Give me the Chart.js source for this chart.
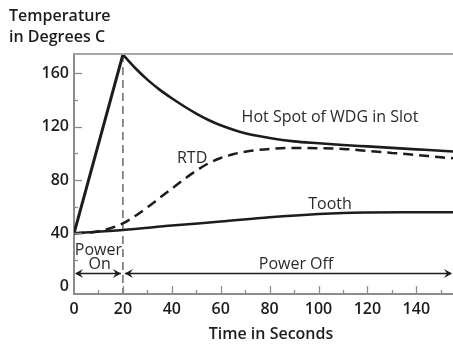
<!DOCTYPE html>
<html lang="en">
<head>
    <meta charset="UTF-8">
    <title>Temperature in Degrees C</title>
    <script src="https://cdn.jsdelivr.net/npm/chart.js"></script>
    <style>
        body { margin: 0; background: #fff; }
        #wrap { width: 453px; height: 344px; position: relative; }
    </style>
</head>
<body>
    <div id="wrap"><canvas id="tempChart"></canvas></div>

    <script>
        // Hot spot of winding in slot (straight ramp while powered, then cooling)
        const hotSpotTime = [0, 20, 25, 30, 35, 40, 45, 50, 55, 60, 70, 80, 90, 100, 110, 120, 130, 140, 150, 155];
        const hotSpotTemp = [40, 174, 164, 155.3, 147.8, 141.3, 135.3, 129.8, 125, 121, 115, 111.5, 109, 107.6, 106.3, 105.2, 104.1, 103, 101.9, 101.4];

        // RTD reading
        const rtdTime = [0, 10, 20, 25, 30, 35, 40, 45, 50, 55, 60, 65, 70, 80, 90, 100, 110, 120, 130, 140, 150, 155];
        const rtdTemp = [40, 41.5, 47.5, 53, 59.5, 66.5, 73.5, 80.5, 87, 92.5, 96.5, 99.3, 101.2, 103.3, 104, 103.8, 103.3, 101.8, 100.3, 98.8, 97, 96.3];

        // Tooth
        const toothTime = [0, 20, 40, 60, 80, 100, 110, 120, 140, 155];
        const toothTemp = [40, 42.5, 45.8, 48.8, 52, 54.5, 55.3, 55.6, 55.8, 55.9];

        const xTicks = [0, 20, 40, 60, 80, 100, 120, 140];
        const yTicks = [0, 40, 80, 120, 160];
        const powerOnEnd = 20;

        const ink = "#1c1c1c";
        const axisGrey = "#8c8c8c";
        const labelFont = "'Open Sans', 'Noto Sans', sans-serif";

        function pts(xs, ys) {
            return xs.map((x, i) => ({ x: x, y: ys[i] }));
        }

        // split the hot spot at the power-off point so the ramp stays straight
        const peakIdx = hotSpotTime.indexOf(powerOnEnd);
        const hotSpotRamp = pts(hotSpotTime.slice(0, peakIdx + 1), hotSpotTemp.slice(0, peakIdx + 1));
        const hotSpotCool = pts(hotSpotTime.slice(peakIdx), hotSpotTemp.slice(peakIdx));

        function arrowHead(ctx, x, y, dir) {
            ctx.beginPath();
            ctx.moveTo(x, y);
            ctx.lineTo(x - dir * 8, y - 4.5);
            ctx.lineTo(x - dir * 5, y);
            ctx.lineTo(x - dir * 8, y + 4.5);
            ctx.closePath();
            ctx.fill();
        }

        const decorations = {
            id: "decorations",
            beforeDatasetsDraw(chart) {
                const { ctx, chartArea: a, scales: { x } } = chart;
                // dashed marker where power is switched off
                const px = x.getPixelForValue(powerOnEnd);
                ctx.save();
                ctx.strokeStyle = "#6a6a6a";
                ctx.lineWidth = 1.5;
                ctx.setLineDash([8, 5]);
                ctx.beginPath();
                ctx.moveTo(px, a.top);
                ctx.lineTo(px, a.bottom);
                ctx.stroke();
                ctx.restore();
            },
            afterDraw(chart) {
                const { ctx, chartArea: a, scales: { x, y } } = chart;
                ctx.save();

                // top frame line
                ctx.strokeStyle = "#a6a6a6";
                ctx.lineWidth = 2;
                ctx.beginPath();
                ctx.moveTo(a.left, a.top);
                ctx.lineTo(a.right, a.top);
                ctx.stroke();

                // inward tick marks
                ctx.strokeStyle = axisGrey;
                ctx.lineWidth = 1.3;
                for (let v = 20; v <= 160; v += 20) {
                    const py = Math.round(y.getPixelForValue(v)) + 0.5;
                    const len = v % 40 === 0 ? 8 : 4;
                    ctx.beginPath();
                    ctx.moveTo(a.left, py);
                    ctx.lineTo(a.left + len, py);
                    ctx.stroke();
                }
                for (let v = 10; v <= 150; v += 10) {
                    const px = Math.round(x.getPixelForValue(v)) + 0.5;
                    const len = v % 20 === 0 ? 8 : 4;
                    ctx.beginPath();
                    ctx.moveTo(px, a.bottom);
                    ctx.lineTo(px, a.bottom - len);
                    ctx.stroke();
                }

                // curve labels
                ctx.fillStyle = "#2a2a2a";
                ctx.textAlign = "center";
                ctx.textBaseline = "middle";
                ctx.font = "16px " + labelFont;
                ctx.fillText("Hot Spot of WDG in Slot", x.getPixelForValue(104.7), y.getPixelForValue(127));
                ctx.fillText("RTD", x.getPixelForValue(48.3), y.getPixelForValue(96));
                ctx.fillText("Tooth", x.getPixelForValue(104.7), y.getPixelForValue(62));
                ctx.fillText("Power", x.getPixelForValue(10), y.getPixelForValue(27.5));
                ctx.fillText("On", x.getPixelForValue(10.5), y.getPixelForValue(16.3));
                ctx.fillText("Power Off", x.getPixelForValue(90.8), y.getPixelForValue(16.3));

                // power on / off spans
                const ay = Math.round(y.getPixelForValue(10.6)) + 0.5;
                const x0 = x.getPixelForValue(0);
                const x20 = x.getPixelForValue(powerOnEnd);
                ctx.strokeStyle = ink;
                ctx.fillStyle = ink;
                ctx.lineWidth = 1.3;
                ctx.beginPath();
                ctx.moveTo(x0 + 2, ay);
                ctx.lineTo(x20 - 2, ay);
                ctx.moveTo(x20 + 2, ay);
                ctx.lineTo(a.right - 2, ay);
                ctx.stroke();
                arrowHead(ctx, x0 + 1, ay, -1);
                arrowHead(ctx, x20 - 2, ay, 1);
                arrowHead(ctx, x20 + 2, ay, -1);
                arrowHead(ctx, a.right - 1, ay, 1);

                // axis titles
                ctx.fillStyle = ink;
                ctx.font = "600 16px " + labelFont;
                ctx.textAlign = "left";
                ctx.fillText("Temperature", 9, 16);
                ctx.fillText("in Degrees C", 9, 37);
                ctx.textAlign = "center";
                ctx.fillText("Time in Seconds", 271, 334);

                ctx.restore();
            }
        };

        const lineStyle = {
            borderColor: ink,
            pointRadius: 0,
            fill: false,
            cubicInterpolationMode: "monotone",
            borderCapStyle: "round",
            borderJoinStyle: "miter"
        };

        new Chart(document.getElementById("tempChart"), {
            type: "line",
            data: {
                datasets: [
                    { ...lineStyle, label: "Hot Spot of WDG in Slot", data: hotSpotRamp, borderWidth: 3, tension: 0, cubicInterpolationMode: "default" },
                    { ...lineStyle, label: "Hot Spot of WDG in Slot", data: hotSpotCool, borderWidth: 2.6 },
                    { ...lineStyle, label: "RTD", data: pts(rtdTime, rtdTemp), borderWidth: 2.5, borderDash: [10, 6], borderCapStyle: "butt" },
                    { ...lineStyle, label: "Tooth", data: pts(toothTime, toothTemp), borderWidth: 2.5 }
                ]
            },
            options: {
                responsive: true,
                maintainAspectRatio: false,
                animation: false,
                layout: { padding: { top: 54, left: 0, right: 0, bottom: 0 } },
                plugins: {
                    legend: { display: false },
                    tooltip: { enabled: false }
                },
                scales: {
                    x: {
                        type: "linear",
                        min: 0,
                        max: 155,
                        afterBuildTicks: s => { s.ticks = xTicks.map(v => ({ value: v })); },
                        afterFit: s => { s.height = 50; },
                        grid: { display: true, drawOnChartArea: false, drawTicks: false },
                        border: { color: axisGrey, width: 2 },
                        ticks: {
                            color: ink,
                            padding: 6,
                            maxRotation: 0,
                            autoSkip: false,
                            font: { family: labelFont, size: 16, weight: "600" }
                        }
                    },
                    y: {
                        min: -5.5,
                        max: 174.5,
                        afterBuildTicks: s => { s.ticks = yTicks.map(v => ({ value: v })); },
                        afterFit: s => { s.width = 74; },
                        grid: { display: true, drawOnChartArea: false, drawTicks: false },
                        border: { color: axisGrey, width: 2 },
                        ticks: {
                            color: ink,
                            padding: 5,
                            font: { family: labelFont, size: 16, weight: "600" }
                        }
                    }
                }
            },
            plugins: [decorations]
        });
    </script>
</body>
</html>
